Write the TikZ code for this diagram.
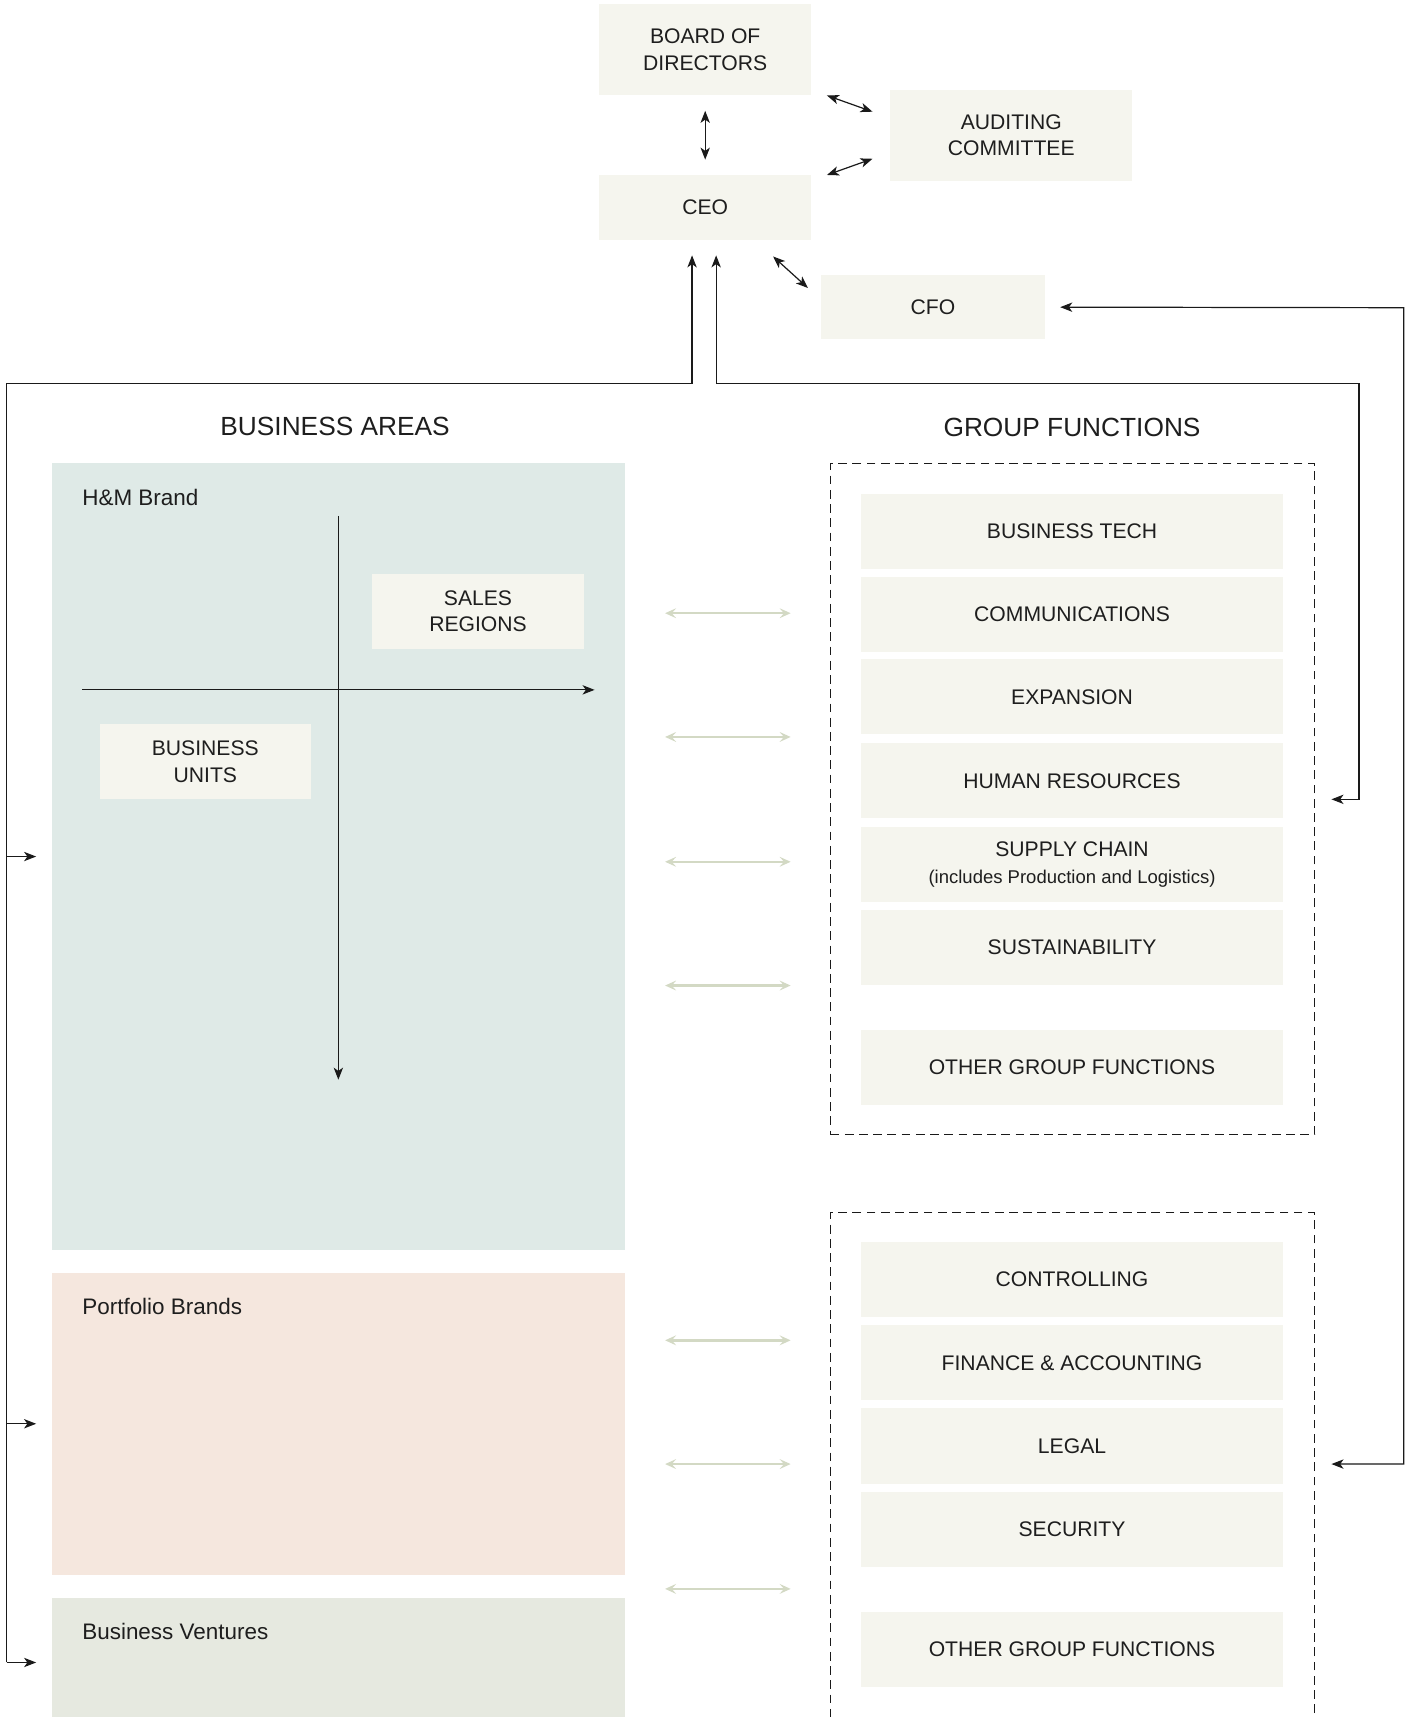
\documentclass[tikz,border=0pt]{standalone}
\usepackage{fontspec}
\setmainfont{Liberation Sans}
\usetikzlibrary{arrows.meta,calc}
\definecolor{boxfill}{HTML}{F5F5EE}
\definecolor{hmcol}{HTML}{DFEAE7}
\definecolor{pbcol}{HTML}{F5E7DE}
\definecolor{bvcol}{HTML}{E6E9E0}
\definecolor{garrow}{HTML}{D3D9C4}
\definecolor{txt}{HTML}{1E1E1E}
\definecolor{ln}{HTML}{1A1A1A}
\newcommand\boxfnt{\fontsize{19.3}{24}\selectfont}
\newcommand\hdrfnt{\fontsize{24}{29}\selectfont}
\newcommand\areafnt{\fontsize{20.5}{25}\selectfont}
\newcommand\smallfnt{\fontsize{16.9}{21}\selectfont}
\begin{document}
\begin{tikzpicture}[x=1pt,y=-1pt,
  box/.style={fill=boxfill, inner sep=0pt, align=center, text=txt, font=\boxfnt},
  fbox/.style={box, minimum width=386pt, minimum height=68.5pt},
  arr/.style={-{Stealth[length=11pt,width=8.5pt,inset=3pt]}, line width=1.1pt, draw=ln},
  darr/.style={{Stealth[length=11pt,width=8.5pt,inset=3pt]}-{Stealth[length=11pt,width=8.5pt,inset=3pt]}, line width=1.1pt, draw=ln},
  garr/.style={{Stealth[length=10pt,width=9pt,inset=4pt]}-{Stealth[length=10pt,width=9pt,inset=4pt]}, line width=2.2pt, draw=garrow},
  area/.style={inner sep=0pt, anchor=north west, minimum width=524pt},
  dbox/.style={draw=ln, dash pattern=on 8pt off 5pt, line width=0.9pt, inner sep=0pt, anchor=north west, minimum width=442pt},
  lbl/.style={inner sep=0pt, text=txt}
]
\clip (0,0) rectangle (1284,1568);
\fill[white] (0,0) rectangle (1284,1568);

% top boxes
\node[box, minimum width=194pt, minimum height=83pt] (board) at (644,45.5) {BOARD OF\\DIRECTORS};
\node[box, minimum width=194pt, minimum height=59pt] (ceo) at (644,189.5) {CEO};
\node[box, minimum width=221pt, minimum height=83pt] (aud) at (923.5,123.5) {AUDITING\\COMMITTEE};
\node[box, minimum width=204pt, minimum height=59pt] (cfo) at (852,280.5) {CFO};

\draw[darr, shorten <=14pt, shorten >=14pt] (board.south) -- (ceo.north);
\draw[darr] ($(board.south east)+(14,0)$) -- ($(aud.west)+(-16,-21.5)$);
\draw[darr] ($(ceo.north east)+(14,0)$) -- ($(aud.west)+(-16,21.5)$);
\draw[darr] ($(ceo.south)+(62,15)$) -- ($(cfo.west)+(-12,-17.5)$);

% headers
\node[lbl, anchor=base, font=\hdrfnt] (bahdr) at (306,398) {BUSINESS AREAS};
\node[lbl, anchor=base, font=\hdrfnt] (gfhdr) at (979,399) {GROUP FUNCTIONS};

% business areas
\node[area, fill=hmcol, minimum height=718pt] (hm) at (47,423) {};
\node[area, fill=pbcol, minimum height=276pt] (pb) at (47,1162) {};
\node[area, fill=bvcol, minimum height=118pt] (bv) at (47,1459) {};
\node[lbl, anchor=base west, font=\areafnt] (hmlbl) at (75,462) {H\&M Brand};
\node[lbl, anchor=base west, font=\areafnt] (pblbl) at (75,1200) {Portfolio Brands};
\node[lbl, anchor=base west, font=\areafnt] (bvlbl) at (75,1497) {Business Ventures};

\coordinate (vtop) at (309,471);
\coordinate (vbot) at (309,986);
\coordinate (hleft) at (75,630);
\coordinate (hright) at (543,630);
\draw[arr] (vtop) -- (vbot);
\draw[arr] (hleft) -- (hright);
\node[box, minimum width=193pt, minimum height=69pt] (sr) at (436.5,558.5) {SALES\\REGIONS};
\node[box, minimum width=193pt, minimum height=69pt] (bu) at (187.5,695.5) {BUSINESS\\UNITS};

% group functions
\node[dbox, minimum height=613pt] (gf1) at (758,423) {};
\node[dbox, minimum height=470pt] (gf2) at (758,1107) {};
\node[fbox] (bt) at (979,485) {BUSINESS TECH};
\node[fbox] (com) at (979,561) {COMMUNICATIONS};
\node[fbox] (exp) at (979,636.5) {EXPANSION};
\node[fbox] (hr) at (979,713) {HUMAN RESOURCES};
\node[fbox] (sc) at (979,789.5) {SUPPLY CHAIN\\{\smallfnt (includes Production and Logistics)}};
\node[fbox] (sus) at (979,865) {SUSTAINABILITY};
\node[fbox] (oth1) at (979,975) {OTHER GROUP FUNCTIONS};
\node[fbox] (ctl) at (979,1168.5) {CONTROLLING};
\node[fbox] (fa) at (979,1244.5) {FINANCE \& ACCOUNTING};
\node[fbox] (leg) at (979,1320.5) {LEGAL};
\node[fbox] (sec) at (979,1396.5) {SECURITY};
\node[fbox] (oth2) at (979,1506.5) {OTHER GROUP FUNCTIONS};

% green double arrows
\foreach \yy in {560,673,787,900,1224,1337,1451}
  \draw[garr] ($(hm.east |- 0,\yy)+(36,0)$) -- ($(gf1.west |- 0,\yy)+(-36,0)$);

% connectors
\coordinate (trunk) at (6,350);
\coordinate (rtrunk) at (1241,350);
\coordinate (cfor) at (1282,281);
\draw[arr] (trunk |- bv.west) -- (trunk) -| ($(ceo.south)+(-12,14)$);
\draw[arr] (trunk |- hm.west) -- ($(hm.west)+(-14,0)$);
\draw[arr] (trunk |- pb.west) -- ($(pb.west)+(-14,0)$);
\draw[arr] (trunk |- bv.west) -- ($(bv.west)+(-14,0)$);
\draw[darr] ($(ceo.south)+(10,14)$) |- (rtrunk) |- ($(gf1.east)+(15,0)$);
\draw[darr] ($(cfo.east)+(14,0)$) -- (cfor) |- ($(gf2.north east)+(15,230)$);
\end{tikzpicture}
\end{document}
